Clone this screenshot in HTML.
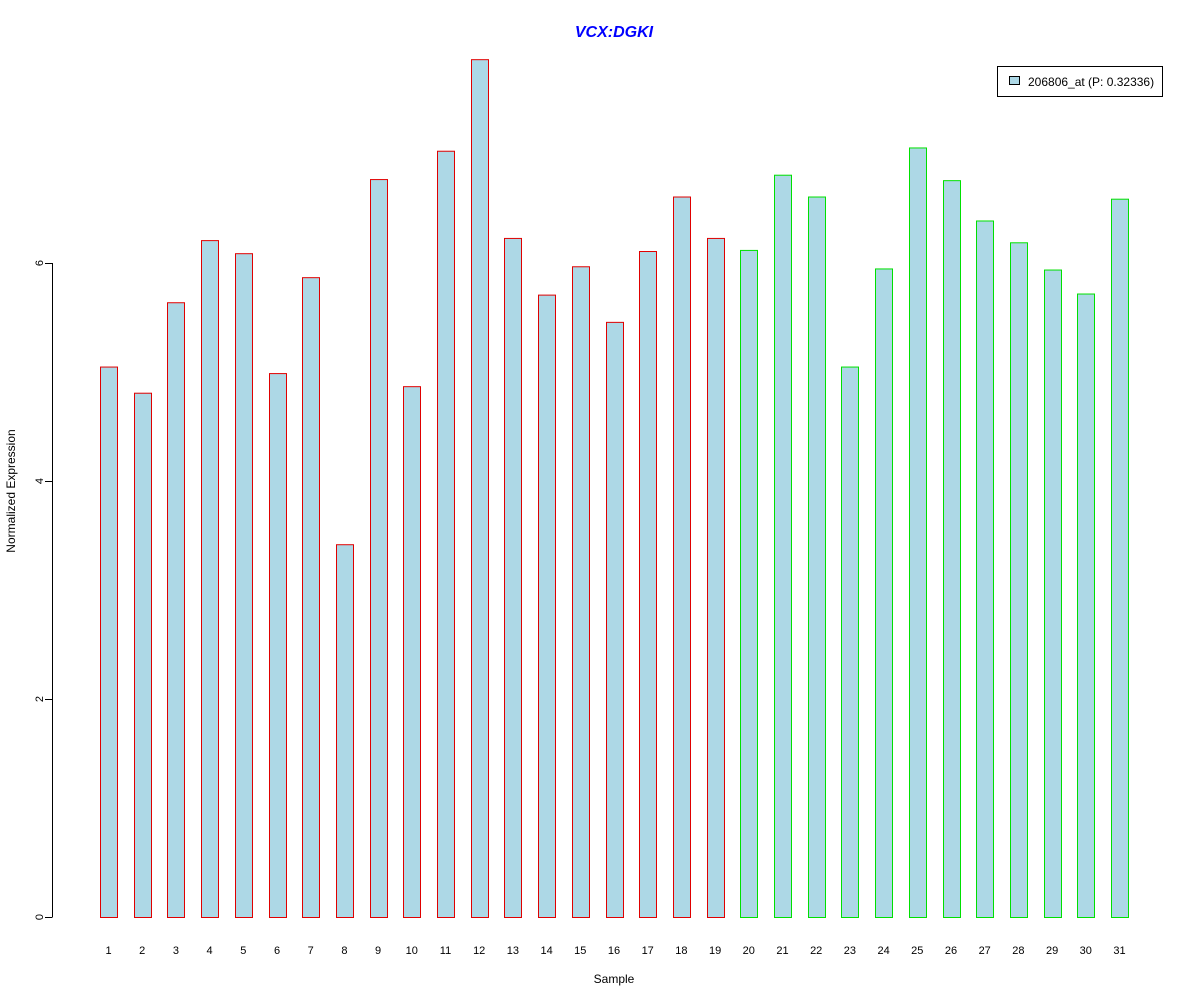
<!DOCTYPE html>
<html><head><meta charset="utf-8"><style>
body{margin:0;background:#fff;}
svg text{font-family:"Liberation Sans",Arial,sans-serif;}
</style></head><body>
<svg id="chart" width="1200" height="1000" xmlns="http://www.w3.org/2000/svg">
<rect width="1200" height="1000" fill="#fff"/>
<text x="614" y="37" text-anchor="middle" font-size="16" font-weight="bold" font-style="italic" fill="#0000ff">VCX:DGKI</text>
<text x="614" y="983" text-anchor="middle" font-size="12">Sample</text>
<text transform="translate(15,491) rotate(-90)" text-anchor="middle" font-size="12">Normalized Expression</text>
<g id="yaxis"></g>
<g id="bars"></g>
<g id="xlabels"></g>
<g>
<rect x="997.5" y="66.5" width="165" height="30" fill="#fff" stroke="#000"/>
<rect x="1009.5" y="76.5" width="10" height="8" fill="#add8e6" stroke="#000"/>
<text x="1028" y="86" font-size="12">206806_at (P: 0.32336)</text>
</g>
</svg>
<script>
const samples = [1,2,3,4,5,6,7,8,9,10,11,12,13,14,15,16,17,18,19,20,21,22,23,24,25,26,27,28,29,30,31];
const values = [5.05,4.81,5.64,6.21,6.09,4.99,5.87,3.42,6.77,4.87,7.03,7.87,6.23,5.71,5.97,5.46,6.11,6.61,6.23,6.12,6.81,6.61,5.05,5.95,7.06,6.76,6.39,6.19,5.94,5.72,6.59];
const groups = ["a","a","a","a","a","a","a","a","a","a","a","a","a","a","a","a","a","a","a","b","b","b","b","b","b","b","b","b","b","b","b"];
const yTicks = [0,2,4,6];
const NS="http://www.w3.org/2000/svg";
function y(v){return 917 - v*109;}
function x(i){return 108.5 + i*33.7;}
const bw=17;
const yaxis=document.getElementById('yaxis');
let l=document.createElementNS(NS,'line');
l.setAttribute('x1',52.5);l.setAttribute('x2',52.5);l.setAttribute('y1',y(0));l.setAttribute('y2',y(6));l.setAttribute('stroke','#000');


yaxis.appendChild(l);
yTicks.forEach(t=>{
 const tk=document.createElementNS(NS,'line');
 tk.setAttribute('x1',45);tk.setAttribute('x2',52.5);tk.setAttribute('y1',y(t)+0.5);tk.setAttribute('y2',y(t)+0.5);tk.setAttribute('stroke','#000');
 
 
 yaxis.appendChild(tk);
 const tx=document.createElementNS(NS,'text');
 tx.setAttribute('transform','translate(43,'+y(t)+') rotate(-90)');
 tx.setAttribute('text-anchor','middle');tx.setAttribute('font-size','11');
 tx.textContent=t;
 
 
 yaxis.appendChild(tx);
});
const bars=document.getElementById('bars'), xl=document.getElementById('xlabels');
values.forEach((v,i)=>{
 const r=document.createElementNS(NS,'rect');
 r.setAttribute('x',Math.round(x(i)-bw/2)+0.5);r.setAttribute('y',y(v)+0.5);
 r.setAttribute('width',bw);r.setAttribute('height',v*109);
 r.setAttribute('fill','#add8e6');r.setAttribute('stroke',groups[i]==='a'?'#e00000':'#00e000');
 
 
 bars.appendChild(r);
 const t=document.createElementNS(NS,'text');
 t.setAttribute('x',x(i));t.setAttribute('y',954);t.setAttribute('text-anchor','middle');t.setAttribute('font-size','11');
 t.textContent=samples[i];
 
 
 xl.appendChild(t);
});
</script>
</body></html>
